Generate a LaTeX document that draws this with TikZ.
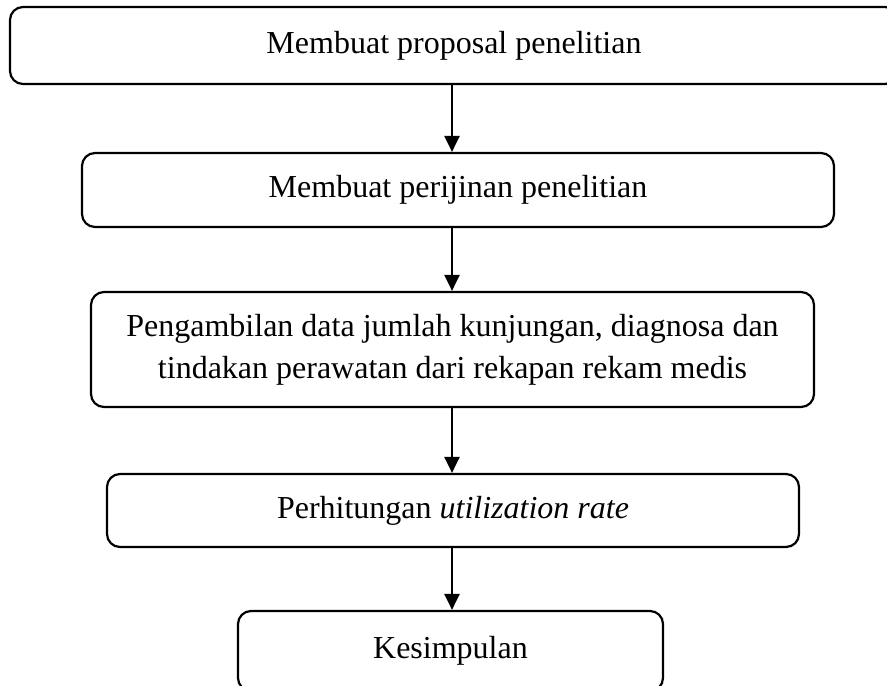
\documentclass[tikz,border=0pt]{standalone}
\usepackage{fontspec}
\setmainfont{Liberation Serif}
\usetikzlibrary{arrows.meta}

\begin{document}
\begin{tikzpicture}[x=0.5pt, y=-0.5pt,
	stepbox/.style={draw, line width=1.1pt, rounded corners=6.5pt, inner sep=0pt, align=center, font=\fontsize{16}{21}\selectfont},
	flow/.style={line width=1.1pt, -{Triangle[length=8pt, width=7.5pt]}}]
	\useasboundingbox (0,0) rectangle (887,685);
	
	\node[stepbox, minimum width=444pt, minimum height=38.5pt] (b1) at (454,45.5) {Membuat proposal penelitian};
	\node[stepbox, minimum width=376pt, minimum height=37pt] (b2) at (458,190) {Membuat perijinan penelitian};
	\node[stepbox, minimum width=361.5pt, minimum height=57.5pt] (b3) at (452.5,349.5) {Pengambilan data jumlah kunjungan, diagnosa dan\\ tindakan perawatan dari rekapan rekam medis};
	\node[stepbox, minimum width=346pt, minimum height=36.5pt] (b4) at (453,510.5) {Perhitungan \textit{utilization rate}};
	\node[stepbox, minimum width=212.5pt, minimum height=40pt] (b5) at (450.5,651) {Kesimpulan};
	
	\coordinate (axis) at (452,0);
	\draw[flow] (axis |- b1.south) -- (axis |- b2.north);
	\draw[flow] (axis |- b2.south) -- (axis |- b3.north);
	\draw[flow] (axis |- b3.south) -- (axis |- b4.north);
	\draw[flow] (axis |- b4.south) -- (axis |- b5.north);
\end{tikzpicture}
\end{document}
